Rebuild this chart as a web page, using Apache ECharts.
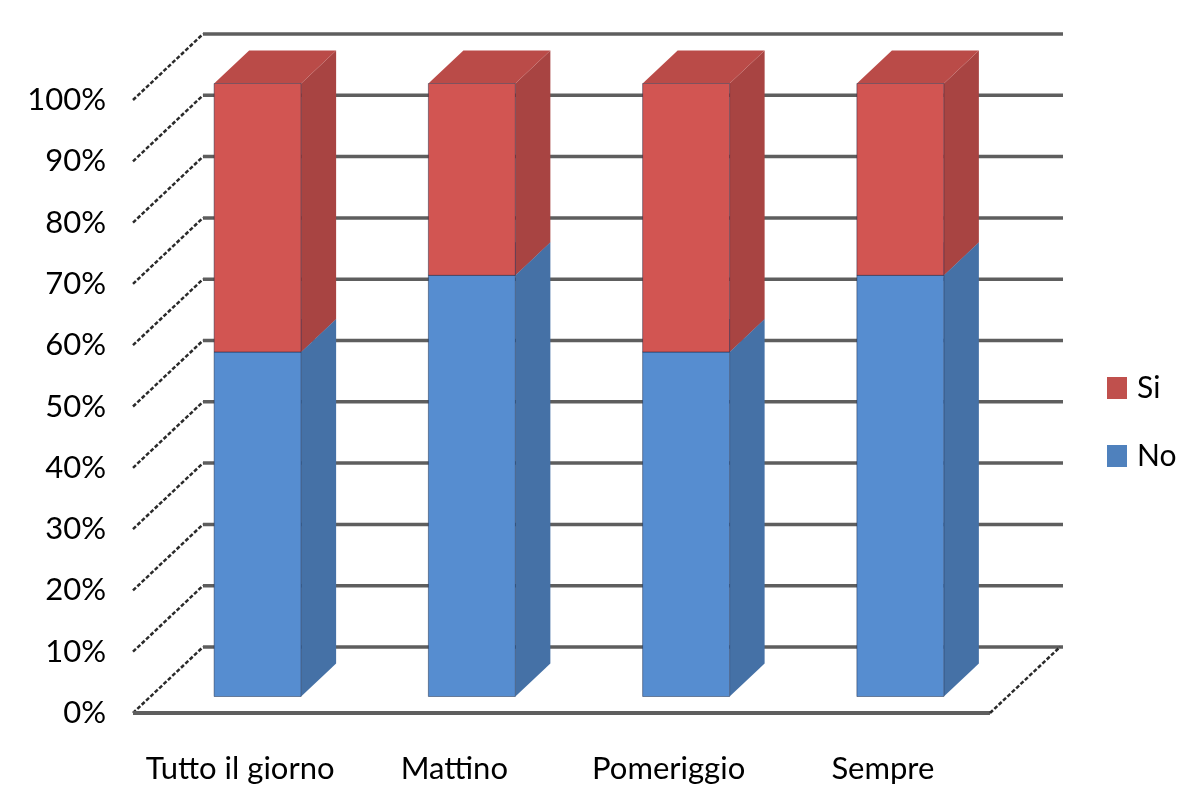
<!DOCTYPE html>
<html>
<head>
<meta charset="utf-8">
<script src="https://cdn.jsdelivr.net/npm/echarts@6/dist/echarts.min.js"></script>
<style>html,body{margin:0;padding:0;background:#fff}#c{width:1200px;height:800px}</style>
</head>
<body>
<div id="c"></div>
<script>
const categories = ['Tutto il giorno', 'Mattino', 'Pomeriggio', 'Sempre'];
const noValues = [56.2, 68.7, 56.2, 68.7];
const siValues = [43.8, 31.3, 43.8, 31.3];
const yTicks = [0, 10, 20, 30, 40, 50, 60, 70, 80, 90, 100];

const FONT = "Lato, 'Open Sans', sans-serif";
const WALL_DX = 70, WALL_DY = -66;       // full depth of floor
const FX = 17.5, FY = -16.5;             // bar front offset
const DX = 35, DY = -33;                 // bar depth

const chart = echarts.init(document.getElementById('c'));

function barRender(front, side, top) {
  return function (params, api) {
    const i = api.value(0), s = api.value(1), e = api.value(2);
    const p0 = api.coord([i, s]);
    const p1 = api.coord([i, e]);
    const w = api.size([1, 0])[0] * 0.406;
    const x0 = p0[0] - w / 2 + FX, x1 = x0 + w;
    const yb = p0[1] + FY, yt = p1[1] + FY;
    return {
      type: 'group',
      children: [
        { type: 'polygon', shape: { points: [[x1, yb], [x1 + DX, yb + DY], [x1 + DX, yt + DY], [x1, yt]] },
          style: { fill: side } },
        { type: 'polygon', shape: { points: [[x0, yt], [x1, yt], [x1 + DX, yt + DY], [x0 + DX, yt + DY]] },
          style: { fill: top } },
        { type: 'rect', shape: { x: x0, y: yt, width: w, height: yb - yt },
          style: { fill: front, stroke: 'rgba(20,30,60,0.45)', lineWidth: 1 } }
      ]
    };
  };
}

function wallRender(params, api) {
  const cs = params.coordSys;
  const v = api.value(1);
  const y = api.coord([0, v])[1];
  const xl = cs.x, xr = cs.x + cs.width;
  const children = [
    { type: 'line', shape: { x1: xl + WALL_DX, y1: y + WALL_DY, x2: xr + WALL_DX + 3, y2: y + WALL_DY },
      style: { stroke: '#5e5e5e', lineWidth: 3.5 } },
    { type: 'line', shape: { x1: xl, y1: y, x2: xl + WALL_DX, y2: y + WALL_DY },
      style: { stroke: '#2a2a2a', lineWidth: 2.5, lineDash: [4, 2] } }
  ];
  if (v === 0) {
    children.push({ type: 'line', shape: { x1: xl, y1: y, x2: xr, y2: y },
      style: { stroke: '#5e5e5e', lineWidth: 4 } });
    children.push({ type: 'line', shape: { x1: xr, y1: y, x2: xr + WALL_DX, y2: y + WALL_DY },
      style: { stroke: '#2a2a2a', lineWidth: 2.5, lineDash: [4, 2] } });
  }
  return { type: 'group', children: children };
}

const noData = categories.map((c, i) => [i, 0, noValues[i]]);
const siData = categories.map((c, i) => [i, noValues[i], noValues[i] + siValues[i]]);

chart.setOption({
  animation: false,
  backgroundColor: '#ffffff',
  grid: { left: 133, top: 100, width: 857, height: 613 },
  legend: {
    data: ['Si', 'No'],
    orient: 'vertical',
    left: 1102,
    top: 368,
    icon: 'rect',
    itemWidth: 20,
    itemHeight: 22,
    itemGap: 38,
    textStyle: { fontFamily: FONT, fontSize: 30, color: '#000', lineHeight: 22, padding: [0, 0, 0, 5] }
  },
  xAxis: {
    type: 'category',
    data: categories,
    axisLine: { show: false },
    axisTick: { show: false },
    splitLine: { show: false },
    axisLabel: { fontFamily: FONT, fontSize: 31, color: '#000', margin: 40, interval: 0 }
  },
  yAxis: {
    type: 'value',
    min: 0, max: 100, interval: 10,
    axisLine: { show: false },
    axisTick: { show: false },
    splitLine: { show: false },
    axisLabel: { fontFamily: FONT, fontSize: 31, color: '#000', margin: 27, formatter: '{value}%' }
  },
  series: [
    { type: 'custom', name: 'walls', renderItem: wallRender, data: yTicks.map(v => [0, v]),
      encode: { x: 0, y: 1 }, z: 1, clip: false, silent: true },
    { type: 'custom', name: 'No', renderItem: barRender('#568dd0', '#4571a6', '#4a7cb8'),
      data: noData, encode: { x: 0, y: [1, 2] }, itemStyle: { color: '#4f81bd' }, z: 2, clip: false },
    { type: 'custom', name: 'Si', renderItem: barRender('#d25552', '#a84442', '#ba4b48'),
      data: siData, encode: { x: 0, y: [1, 2] }, itemStyle: { color: '#c0504d' }, z: 3, clip: false }
  ]
});
</script>
</body>
</html>
